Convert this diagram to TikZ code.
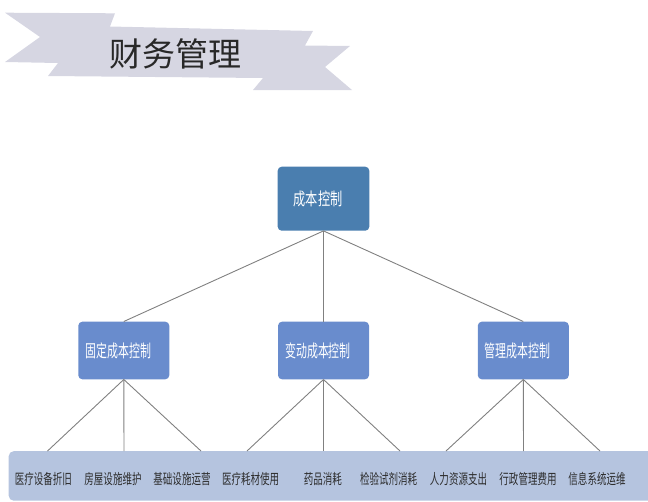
\documentclass[tikz,border=0pt]{standalone}
\usepackage{fontspec}
\newfontfamily\cjkleaf[FakeStretch=0.66]{Noto Sans CJK SC}
\newfontfamily\cjkmid[FakeStretch=0.63]{Noto Sans CJK SC}
\newfontfamily\cjktop[FakeStretch=0.7]{Noto Sans CJK SC}
\newfontfamily\cjktitle{Noto Sans CJK SC}
\definecolor{topblue}{RGB}{74,126,175}
\definecolor{midblue}{RGB}{105,140,205}
\definecolor{barblue}{RGB}{181,196,223}
\definecolor{ribbon}{RGB}{214,214,226}
\definecolor{linegray}{RGB}{128,128,128}
\definecolor{txtdark}{RGB}{45,45,45}
\begin{document}
\begin{tikzpicture}[x=1pt,y=-1pt,
  boxtop/.style={fill=topblue, rounded corners=4pt, minimum width=91.6pt, minimum height=64pt, inner sep=0pt},
  boxmid/.style={fill=midblue, rounded corners=4pt, minimum width=91pt, minimum height=57.6pt, inner sep=0pt},
  boxtxt/.style={text=white, inner sep=0pt},
  midtxt/.style={boxtxt, xshift=-5.5pt, font=\cjkmid\fontsize{17.4}{18}\selectfont},
  leaf/.style={text=txtdark, font=\cjkleaf\fontsize{14.4}{15}\selectfont, inner sep=0pt},
  conn/.style={draw=linegray, line width=0.9pt}]
\useasboundingbox (0,0) rectangle (648,501);
% ribbon banner
\fill[ribbon] (5,12.7) -- (115,13.3) -- (110,26.5) -- (313,31) -- (305,45.5) -- (350,46)
  -- (325,67) -- (352,90) -- (253,90) -- (263,78) -- (48,76) -- (58,63) -- (5,62) -- (40,37) -- cycle;
\node[text={rgb,255:red,40;green,40;blue,40}, font=\cjktitle\fontsize{33}{36}\selectfont, inner sep=0pt] (title) at (175,54) {财务管理};
% bottom bar
\node[fill=barblue, rounded corners=5pt, minimum width=660pt, minimum height=49.5pt, inner sep=0pt, anchor=north west] (bar) at (8.5,451) {};
% tree nodes
\node[boxtop, label={[boxtxt, xshift=-5.5pt, font=\cjktop\fontsize{17.4}{18}\selectfont]center:成本控制}] (root) at (323.5,198.7) {};
\node[boxmid, label={[midtxt]center:固定成本控制}] (fixed) at (123.8,350.5) {};
\node[boxmid, label={[midtxt]center:变动成本控制}] (var) at (323.5,350.5) {};
\node[boxmid, label={[midtxt]center:管理成本控制}] (mgmt) at (523.3,350.5) {};
% connector ends on the bar
\coordinate (b1) at (47.5,451);
\coordinate (b2) at (124,451);
\coordinate (b3) at (201,451);
\coordinate (b4) at (247,451);
\coordinate (b5) at (323.5,451);
\coordinate (b6) at (400,451);
\coordinate (b7) at (446,451);
\coordinate (b8) at (523.5,451);
\coordinate (b9) at (600,451);
% connectors
\draw[conn] (root.south) -- (fixed.north);
\draw[conn] (root.south) -- (var.north);
\draw[conn] (root.south) -- (mgmt.north);
\draw[conn] (fixed.south) -- (b1);
\draw[conn] (fixed.south) -- (b2);
\draw[conn] (fixed.south) -- (b3);
\draw[conn] (var.south) -- (b4);
\draw[conn] (var.south) -- (b5);
\draw[conn] (var.south) -- (b6);
\draw[conn] (mgmt.south) -- (b7);
\draw[conn] (mgmt.south) -- (b8);
\draw[conn] (mgmt.south) -- (b9);
% leaf labels
\node[leaf] (l1) at (43.4,479) {医疗设备折旧};
\node[leaf] (l2) at (113,479) {房屋设施维护};
\node[leaf] (l3) at (182,479) {基础设施运营};
\node[leaf] (l4) at (250.6,479) {医疗耗材使用};
\node[leaf] (l5) at (322.8,479) {药品消耗};
\node[leaf] (l6) at (388.6,479) {检验试剂消耗};
\node[leaf] (l7) at (458.5,479) {人力资源支出};
\node[leaf] (l8) at (528,479) {行政管理费用};
\node[leaf] (l9) at (597,479) {信息系统运维};
\end{tikzpicture}
\end{document}
